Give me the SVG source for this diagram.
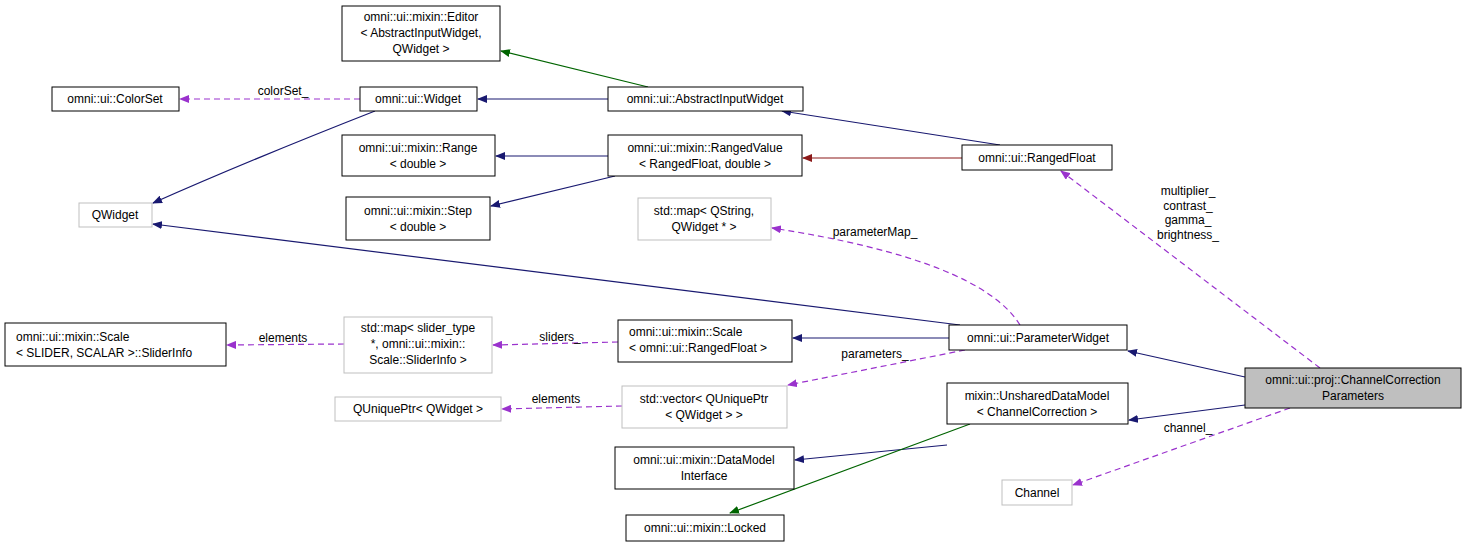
<svg xmlns="http://www.w3.org/2000/svg" width="1464" height="548" viewBox="0 0 1464 548">
<style>
.n{fill:#fff;stroke:#000;stroke-width:1}
.g{fill:#fff;stroke:#bfbfbf;stroke-width:1}
.s{fill:#bfbfbf;stroke:#000;stroke-width:1}
text{font-family:"Liberation Sans",Arial,sans-serif;font-size:12px;text-anchor:middle;fill:#000}
.b{fill:none;stroke:#191970;stroke-width:1.2}
.gr{fill:none;stroke:#006400;stroke-width:1.2}
.r{fill:none;stroke:#8b1a1a;stroke-width:1.2}
.d{fill:none;stroke:#9a32cd;stroke-width:1.2;stroke-dasharray:6,4}
</style>
<defs>
<marker id="mb" markerWidth="10" markerHeight="8" refX="9" refY="4" orient="auto" markerUnits="userSpaceOnUse" viewBox="0 0 10 8"><path d="M0,0L10,4L0,8z" fill="#191970"/></marker>
<marker id="mg" markerWidth="10" markerHeight="8" refX="9" refY="4" orient="auto" markerUnits="userSpaceOnUse" viewBox="0 0 10 8"><path d="M0,0L10,4L0,8z" fill="#006400"/></marker>
<marker id="mr" markerWidth="10" markerHeight="8" refX="9" refY="4" orient="auto" markerUnits="userSpaceOnUse" viewBox="0 0 10 8"><path d="M0,0L10,4L0,8z" fill="#8b1a1a"/></marker>
<marker id="md" markerWidth="10" markerHeight="8" refX="9" refY="4" orient="auto" markerUnits="userSpaceOnUse" viewBox="0 0 10 8"><path d="M0,0L10,4L0,8z" fill="#9a32cd"/></marker>
</defs>
<g id="edges">
<path class="gr" d="M648,87L501,51" marker-end="url(#mg)"/>
<path class="b" d="M608,99L478,99" marker-end="url(#mb)"/>
<path class="d" d="M360,99L180,99" marker-end="url(#md)"/>
<text x="283" y="95">colorSet_</text>
<path class="b" d="M375,111Q250,160 153,203" marker-end="url(#mb)"/>
<path class="b" d="M608,156L496,156" marker-end="url(#mb)"/>
<path class="b" d="M615,176L491,206" marker-end="url(#mb)"/>
<path class="r" d="M962,158L803,158" marker-end="url(#mr)"/>
<path class="b" d="M1000,145L782,111" marker-end="url(#mb)"/>
<path class="b" d="M960,325Q600,280 153,224" marker-end="url(#mb)"/>
<path class="b" d="M949,338L793,338" marker-end="url(#mb)"/>
<path class="d" d="M1020,325Q980,260 772,228" marker-end="url(#md)"/>
<text x="875" y="236">parameterMap_</text>
<path class="d" d="M965,350L788,385" marker-end="url(#md)"/>
<text x="875" y="358">parameters_</text>
<path class="d" d="M618,342L493,345" marker-end="url(#md)"/>
<text x="560" y="341">sliders_</text>
<path class="d" d="M344,344L227,345" marker-end="url(#md)"/>
<text x="283" y="342">elements</text>
<path class="d" d="M622,406L502,409" marker-end="url(#md)"/>
<text x="556" y="403">elements</text>
<path class="b" d="M1245,377L1128,351" marker-end="url(#mb)"/>
<path class="b" d="M1245,405L1129,420" marker-end="url(#mb)"/>
<path class="d" d="M1320,368L1061,171" marker-end="url(#md)"/>
<text x="1188" y="195">multiplier_</text>
<text x="1188" y="210">contrast_</text>
<text x="1188" y="224">gamma_</text>
<text x="1188" y="239">brightness_</text>
<path class="d" d="M1290,408L1073,485" marker-end="url(#md)"/>
<text x="1188" y="432">channel_</text>
<path class="b" d="M947,445L795,460" marker-end="url(#mb)"/>
<path class="gr" d="M970,424L730,513" marker-end="url(#mg)"/>
</g>
<g id="editor"><rect class="n" x="342" y="6" width="158" height="55"/><text x="421" y="21">omni::ui::mixin::Editor</text><text x="421" y="37">&lt; AbstractInputWidget,</text><text x="421" y="53">QWidget &gt;</text></g>
<g id="colorset"><rect class="n" x="52" y="87" width="127" height="24"/><text x="115" y="103">omni::ui::ColorSet</text></g>
<g id="widget"><rect class="n" x="360" y="87" width="117" height="24"/><text x="418" y="103">omni::ui::Widget</text></g>
<g id="abstractinput"><rect class="n" x="608" y="87" width="195" height="24"/><text x="705" y="103">omni::ui::AbstractInputWidget</text></g>
<g id="range"><rect class="n" x="342" y="135" width="153" height="41"/><text x="418" y="152">omni::ui::mixin::Range</text><text x="418" y="168">&lt; double &gt;</text></g>
<g id="rangedvalue"><rect class="n" x="608" y="135" width="194" height="41"/><text x="705" y="152">omni::ui::mixin::RangedValue</text><text x="705" y="168">&lt; RangedFloat, double &gt;</text></g>
<g id="rangedfloat"><rect class="n" x="962" y="145" width="150" height="25"/><text x="1037" y="162">omni::ui::RangedFloat</text></g>
<g id="qwidget"><rect class="g" x="79" y="203" width="73" height="24"/><text x="115" y="219">QWidget</text></g>
<g id="step"><rect class="n" x="346" y="197" width="144" height="43"/><text x="418" y="215">omni::ui::mixin::Step</text><text x="418" y="231">&lt; double &gt;</text></g>
<g id="mapqstring"><rect class="g" x="638" y="198" width="133" height="42"/><text x="704" y="215">std::map&lt; QString,</text><text x="704" y="231">QWidget * &gt;</text></g>
<g id="sliderinfo"><rect class="n" x="5" y="323" width="221" height="43"/><text x="16" y="341" style="text-anchor:start">omni::ui::mixin::Scale</text><text x="16" y="357" style="text-anchor:start">&lt; SLIDER, SCALAR &gt;::SliderInfo</text></g>
<g id="mapslider"><rect class="g" x="344" y="317" width="148" height="56"/><text x="418" y="332">std::map&lt; slider_type</text><text x="418" y="348">*, omni::ui::mixin::</text><text x="418" y="364">Scale::SliderInfo &gt;</text></g>
<g id="scale"><rect class="n" x="618" y="320" width="174" height="42"/><text x="629" y="336" style="text-anchor:start">omni::ui::mixin::Scale</text><text x="629" y="352" style="text-anchor:start">&lt; omni::ui::RangedFloat &gt;</text></g>
<g id="paramwidget"><rect class="n" x="949" y="325" width="178" height="25"/><text x="1038" y="342">omni::ui::ParameterWidget</text></g>
<g id="vector"><rect class="g" x="622" y="386" width="165" height="42"/><text x="704" y="403">std::vector&lt; QUniquePtr</text><text x="704" y="419">&lt; QWidget &gt; &gt;</text></g>
<g id="quniqueptr"><rect class="g" x="335" y="397" width="166" height="24"/><text x="418" y="413">QUniquePtr&lt; QWidget &gt;</text></g>
<g id="unshared"><rect class="n" x="947" y="383" width="181" height="41"/><text x="1037" y="400">mixin::UnsharedDataModel</text><text x="1037" y="416">&lt; ChannelCorrection &gt;</text></g>
<g id="channelcorrection"><rect class="s" x="1245" y="368" width="216" height="40"/><text x="1353" y="384">omni::ui::proj::ChannelCorrection</text><text x="1353" y="400">Parameters</text></g>
<g id="datamodel"><rect class="n" x="615" y="447" width="179" height="42"/><text x="704" y="464">omni::ui::mixin::DataModel</text><text x="704" y="480">Interface</text></g>
<g id="channel"><rect class="g" x="1002" y="480" width="70" height="25"/><text x="1037" y="497">Channel</text></g>
<g id="locked"><rect class="n" x="626" y="515" width="158" height="26"/><text x="705" y="532">omni::ui::mixin::Locked</text></g>
</svg>
